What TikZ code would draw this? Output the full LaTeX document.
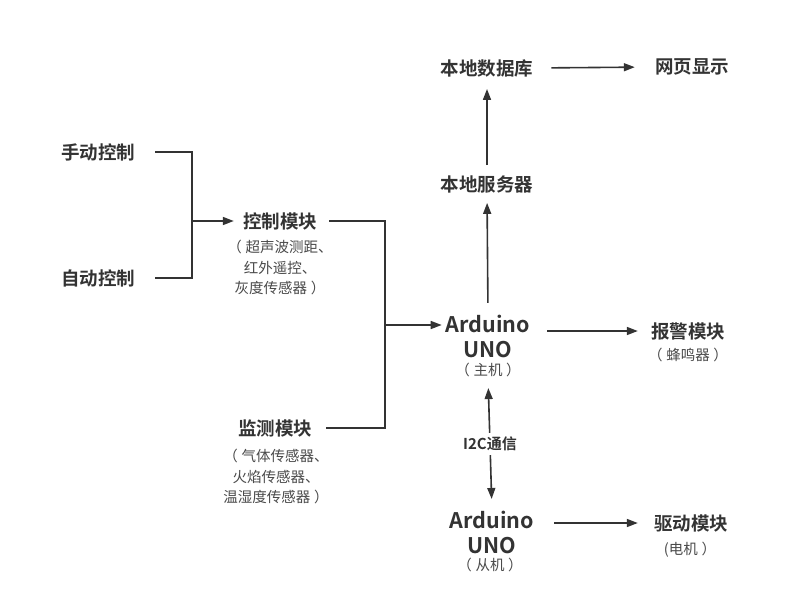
\documentclass[tikz,border=0pt]{standalone}
\usepackage{fontspec}
\setmainfont{Noto Sans CJK SC}[BoldFont={Noto Sans CJK SC Bold}]
\usetikzlibrary{arrows.meta}
\definecolor{ink}{HTML}{333333}
\definecolor{sub}{HTML}{4A4A4A}
\newcommand{\lp}{（\hspace{0.25em}}
\newcommand{\rp}{\hspace{0.25em}）}
\begin{document}
\begin{tikzpicture}[x=1pt,y=-1pt,
  title/.style={inner sep=0pt,text=ink,font=\fontsize{18.5}{20}\selectfont\bfseries},
  latin/.style={inner sep=0pt,text=ink,font=\fontsize{21.5}{22}\selectfont\bfseries},
  subt/.style={inner sep=0pt,text=sub,align=center,font=\fontsize{14.5}{20.5}\selectfont},
  conn/.style={draw=ink,line width=1.6pt},
  arr/.style={conn,-{Triangle[length=11pt,width=8pt]}},
  darr/.style={conn,{Triangle[length=11pt,width=8pt]}-{Triangle[length=11pt,width=8pt]}}]
\useasboundingbox[fill=white] (0,0) rectangle (800,605);
% left inputs
\node[title] (sd) at (98,152) {手动控制};
\node[title] (zd) at (98,278) {自动控制};
\node[title] (kz) at (280,221) {控制模块};
\node[subt,anchor=north] (kzs) at (280,240) {\lp 超声波测距、\\红外遥控、\\灰度传感器\rp};
\node[title] (jc) at (275,428) {监测模块};
\node[subt,anchor=north] (jcs) at (276,449) {\lp 气体传感器、\\火焰传感器、\\温湿度传感器\rp};
% master
\node[latin] (ma) at (488,324) {Arduino};
\node[latin] (mu) at (488,350) {UNO};
\node[subt] (mz) at (488,370) {\lp 主机\rp};
% upper chain
\node[title] (fw) at (487,184) {本地服务器};
\node[title] (sj) at (487,68) {本地数据库};
\node[title] (wy) at (692,67) {网页显示};
% alarm
\node[title] (bj) at (688,331) {报警模块};
\node[subt] (bjs) at (688,355) {\lp 蜂鸣器\rp};
% slave
\node[latin] (sa) at (492,520) {Arduino};
\node[latin] (su) at (492,546) {UNO};
\node[subt] (sz) at (490,565) {\lp 从机\rp};
\node[title] (qd) at (691,523) {驱动模块};
\node[subt] (qds) at (690,550) {(电机\rp};
% junctions
\coordinate (j1) at (192,221);
\coordinate (j2) at (385,325);
% connectors
\draw[conn,shorten <=20pt] (sd.east) -| (j1);
\draw[conn,shorten <=20pt] (zd.east) -| (j1);
\draw[arr,shorten >=9pt] (j1) -- (j1 -| kz.west);
\draw[conn,shorten <=12pt] (kz.east) -| (j2);
\draw[conn,shorten <=14pt] (jc.east) -| (j2);
\draw[arr,shorten >=4pt] (j2) -- (j2 -| ma.west);
\draw[arr,shorten <=12pt,shorten >=10pt] (ma.north) -- (fw.south);
\draw[arr,shorten <=10pt,shorten >=12pt] (fw.north) -- (sj.south);
\draw[arr,shorten <=18pt,shorten >=20pt] (sj.east) -- (wy.west);
\draw[arr,shorten <=17pt,shorten >=13pt] (ma.east |- bj.west) -- (bj.west);
\draw[arr,shorten <=20pt,shorten >=16pt] (sa.east |- qd.west) -- (qd.west);
\draw[darr,shorten <=11pt,shorten >=12pt] (mz.south) -- node[fill=white,inner xsep=1pt,inner ysep=4pt,text=ink,font=\fontsize{15}{16}\selectfont\bfseries] (i2c) {I2C通信} (sa.north);
\end{tikzpicture}
\end{document}
